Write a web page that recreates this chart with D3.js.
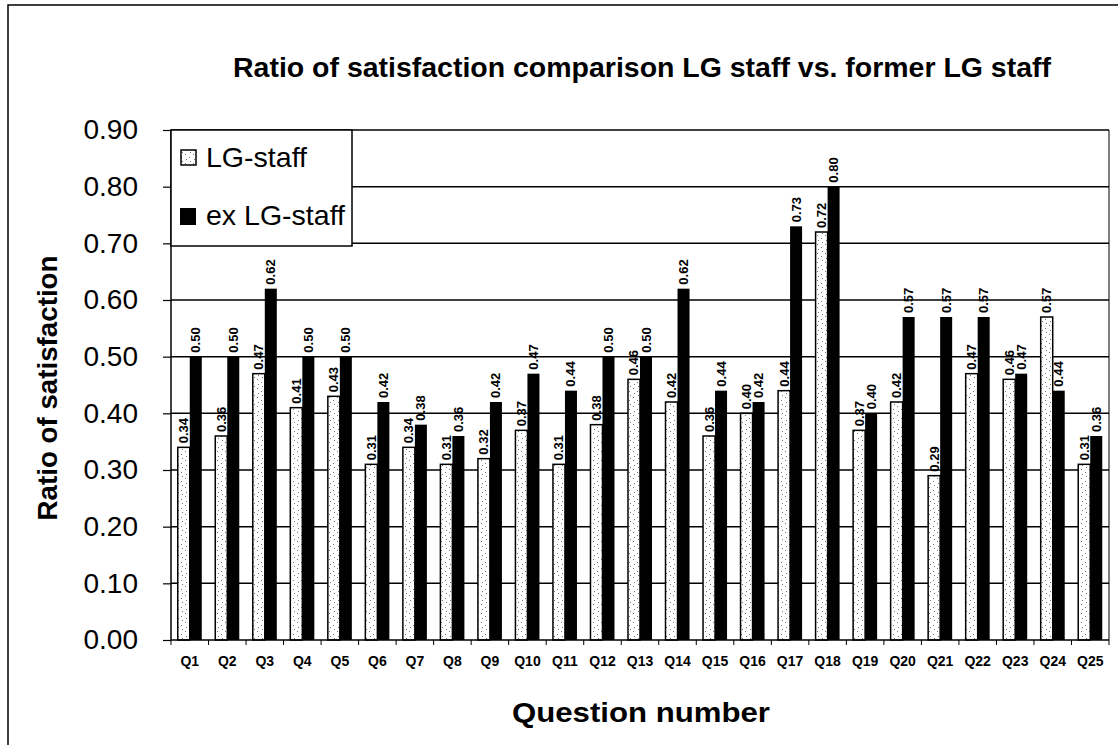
<!DOCTYPE html>
<html><head><meta charset="utf-8">
<script src="https://cdn.jsdelivr.net/npm/d3@7"></script>
<style>body{margin:0;background:#fff;} svg{display:block;font-family:"Liberation Sans",Arial,sans-serif;}</style>
</head><body>
<svg id="c" width="1118" height="745"></svg>
<script>
const categories = ["Q1","Q2","Q3","Q4","Q5","Q6","Q7","Q8","Q9","Q10","Q11","Q12","Q13","Q14","Q15","Q16","Q17","Q18","Q19","Q20","Q21","Q22","Q23","Q24","Q25"];
const lgStaff = [0.34,0.36,0.47,0.41,0.43,0.31,0.34,0.31,0.32,0.37,0.31,0.38,0.46,0.42,0.36,0.40,0.44,0.72,0.37,0.42,0.29,0.47,0.46,0.57,0.31];
const exLgStaff = [0.50,0.50,0.62,0.50,0.50,0.42,0.38,0.36,0.42,0.47,0.44,0.50,0.50,0.62,0.44,0.42,0.73,0.80,0.40,0.57,0.57,0.57,0.47,0.44,0.36];
const seriesNames = ["LG-staff","ex LG-staff"];
const yTicks = [0,0.1,0.2,0.3,0.4,0.5,0.6,0.7,0.8,0.9];
const title = "Ratio of satisfaction comparison LG staff vs. former LG staff";
const xTitle = "Question number";
const yTitle = "Ratio of satisfaction";

const svg = d3.select("#c");
const L = 171, R = 1109, T = 130, B = 640;

// defs: stipple pattern
const defs = svg.append("defs");
const pat = defs.append("pattern").attr("id","stip").attr("patternUnits","userSpaceOnUse").attr("width",8).attr("height",9);
pat.append("rect").attr("width",8).attr("height",9).attr("fill","#fff");
[[1,1],[5,4],[2,6],[6,8]].forEach(([a,b])=>pat.append("rect").attr("x",a).attr("y",b).attr("width",1).attr("height",1).attr("fill","#777"));

// outer frame
svg.append("path").attr("d","M8,745 L8,5 L1118,5").attr("fill","none").attr("stroke","#000").attr("stroke-width",1.5);

const x = d3.scaleBand().domain(categories).range([L,R]).padding(0);
const y = d3.scaleLinear().domain([0,0.9]).range([B,T]);
const bw = x.bandwidth()*0.32;

// gridlines
svg.append("g").selectAll("line").data(yTicks.slice(1)).join("line")
  .attr("x1",L).attr("x2",R).attr("y1",d=>y(d)).attr("y2",d=>y(d))
  .attr("stroke","#000").attr("stroke-width",1.5);
// right border
svg.append("line").attr("x1",R).attr("x2",R).attr("y1",T).attr("y2",B).attr("stroke","#000").attr("stroke-width",1);

// bars
const g = svg.append("g");
g.selectAll("rect.lg").data(lgStaff).join("rect").attr("class","lg")
  .attr("x",(d,i)=>x(categories[i])+x.bandwidth()/2-bw)
  .attr("y",d=>y(d)).attr("width",bw).attr("height",d=>B-y(d))
  .attr("fill","url(#stip)").attr("stroke","#000").attr("stroke-width",1.5);
g.selectAll("rect.ex").data(exLgStaff).join("rect").attr("class","ex")
  .attr("x",(d,i)=>x(categories[i])+x.bandwidth()/2)
  .attr("y",d=>y(d)).attr("width",bw).attr("height",d=>B-y(d))
  .attr("fill","#000");

// value labels
function labels(data, off){
  g.selectAll(null).data(data).join("text")
    .attr("transform",(d,i)=>{const cx=x(categories[i])+x.bandwidth()/2+off; return `translate(${cx+4.5},${y(d)-4}) rotate(-90)`;})
    .attr("font-size",13).attr("font-weight","bold").attr("text-anchor","start")
    .text(d=>d.toFixed(2));
}
labels(lgStaff,-bw/2);
labels(exLgStaff,bw/2);

// axes
const ya = d3.axisLeft(y).tickValues(yTicks).tickFormat(d3.format(".2f")).tickSize(8).tickPadding(25);
const yg = svg.append("g").attr("transform",`translate(${L},0)`).call(ya);
yg.select(".domain").attr("stroke-width",1.5).attr("d",`M0,${B}V${T}`);
yg.selectAll("line").attr("stroke-width",1.2);
yg.selectAll("text").attr("font-size",28).attr("font-family","Liberation Sans, Arial, sans-serif").attr("fill","#000");

const xa = d3.axisBottom(x).tickSize(0).tickPadding(16);
const xg = svg.append("g").attr("transform",`translate(0,${B})`).call(xa);
xg.select(".domain").attr("stroke-width",1.5).attr("d",`M${L},0H${R}`);
xg.selectAll("text").attr("font-size",14).attr("font-weight","bold").attr("font-family","Liberation Sans, Arial, sans-serif").attr("fill","#000");
// x ticks between categories
xg.selectAll("line.sep").data(categories.slice(0).concat(["end"])).join("line").attr("class","sep")
  .attr("x1",(d,i)=>L+i*x.step()).attr("x2",(d,i)=>L+i*x.step()).attr("y1",0).attr("y2",5)
  .attr("stroke","#000").attr("stroke-width",1);

// legend
const lg = svg.append("g");
lg.append("rect").attr("x",L).attr("y",T).attr("width",181).attr("height",116).attr("fill","#fff").attr("stroke","#000").attr("stroke-width",1.5);
lg.append("rect").attr("x",181).attr("y",150).attr("width",15).attr("height",15).attr("fill","url(#stip)").attr("stroke","#000").attr("stroke-width",1.5);
lg.append("rect").attr("x",180).attr("y",208).attr("width",16).attr("height",17).attr("fill","#000");
lg.append("text").attr("x",206).attr("y",167).attr("font-size",28).attr("textLength",101).attr("lengthAdjust","spacingAndGlyphs").text(seriesNames[0]);
lg.append("text").attr("x",206).attr("y",225).attr("font-size",28).attr("textLength",139).attr("lengthAdjust","spacingAndGlyphs").text(seriesNames[1]);

// titles
svg.append("text").attr("x",642).attr("y",77).attr("text-anchor","middle").attr("font-size",27).attr("font-weight","bold")
  .attr("textLength",818).attr("lengthAdjust","spacingAndGlyphs").text(title);
svg.append("text").attr("x",641).attr("y",722).attr("text-anchor","middle").attr("font-size",27).attr("font-weight","bold")
  .attr("textLength",258).attr("lengthAdjust","spacingAndGlyphs").text(xTitle);
svg.append("text").attr("transform","translate(57,388) rotate(-90)").attr("text-anchor","middle").attr("font-size",27).attr("font-weight","bold")
  .attr("textLength",265).attr("lengthAdjust","spacingAndGlyphs").text(yTitle);
</script>
</body></html>
